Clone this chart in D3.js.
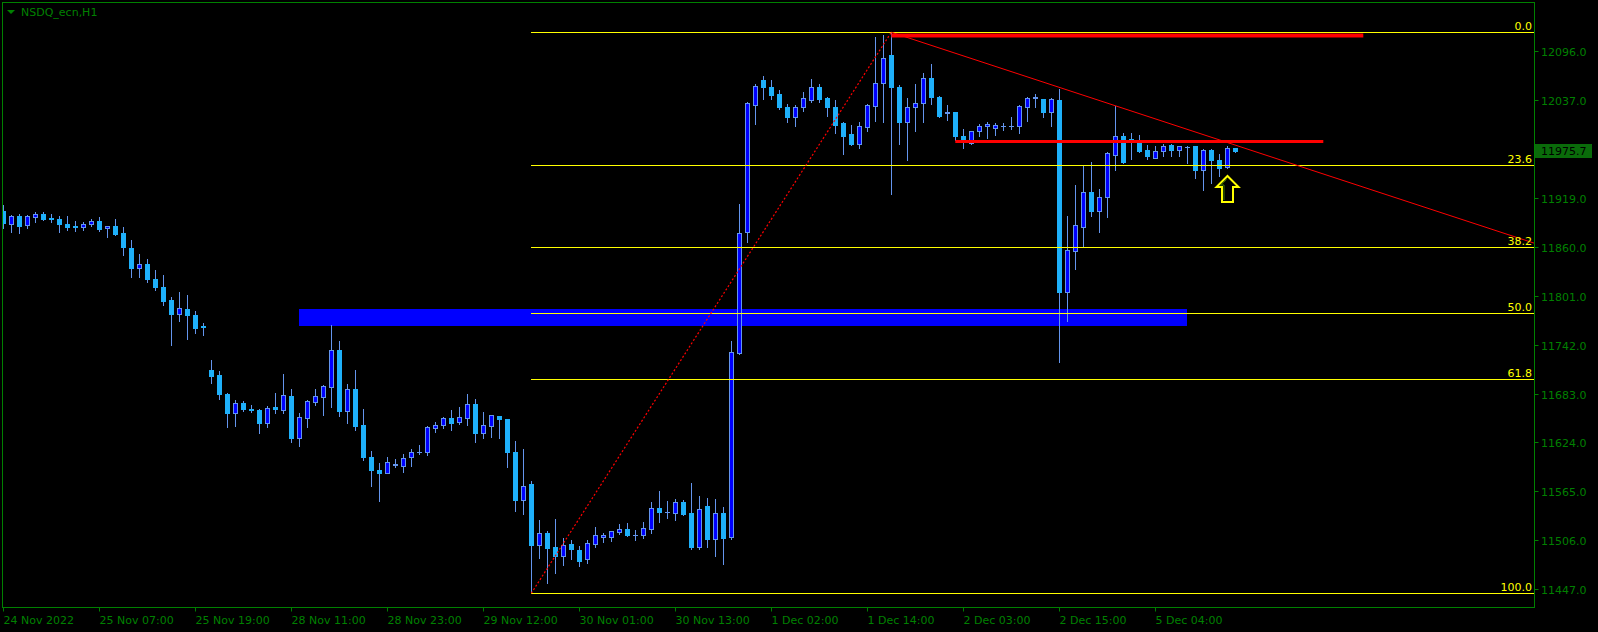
<!DOCTYPE html>
<html><head><meta charset="utf-8">
<script src="https://cdn.jsdelivr.net/npm/d3@7"></script>
<style>html,body{margin:0;padding:0;background:#000;overflow:hidden}</style>
</head><body><svg id="c" width="1598" height="632"></svg>
<script>
// ---------- DATA ----------
const symbolTitle = "NSDQ_ecn,H1";
const opens = [11903,11887,11897,11886,11896,11900,11895,11894,11888,11885,11884,11887,11891,11882,11885,11876,11859,11834,11839,11821,11812,11796,11779,11785,11778,11764,11712,11705,11682,11659,11672,11664,11663,11647,11667,11663,11680,11629,11654,11673,11679,11691,11735,11662,11689,11645,11607,11591,11587,11597,11596,11606,11613,11612,11642,11645,11653,11649,11654,11670,11635,11644,11656,11652,11612,11555,11574,11501,11515,11498,11487,11502,11494,11483,11502,11510,11510,11516,11520,11512,11512,11520,11545,11540,11539,11552,11539,11498,11547,11508,11539,11510,11732,11878,12031,12061,12052,12044,12028,12017,12028,12037,12053,12039,12028,12009,11996,11984,12004,12030,12058,12091,12053,12010,12028,12033,12064,12041,12021,12022,11993,11985,12000,12005,12003,12005,12005,12006,12029,12039,12038,12023,12037,11806,11855,11884,11926,11903,11920,11971,11994,11990,11986,11977,11967,11976,11983,11977,11980,11981,11952,11977,11964,11956,11979];
const highs = [11910,11898,11899,11898,11902,11902,11900,11897,11897,11891,11890,11894,11896,11885,11893,11884,11868,11851,11845,11832,11826,11799,11806,11802,11782,11768,11724,11710,11684,11675,11674,11669,11664,11668,11684,11707,11689,11659,11675,11689,11693,11766,11746,11695,11711,11664,11614,11599,11606,11604,11610,11616,11621,11644,11649,11655,11663,11667,11682,11676,11661,11657,11656,11652,11626,11616,11578,11531,11517,11532,11509,11506,11499,11506,11522,11515,11517,11526,11527,11518,11528,11552,11565,11554,11556,11555,11575,11560,11557,11556,11546,11746,11912,12034,12056,12066,12061,12049,12032,12031,12047,12062,12056,12041,12037,12010,12007,12010,12032,12113,12115,12118.6,12055,12039,12056,12069,12080,12042,12031,12022,12002,12000,12008,12010,12009,12009,12016,12031,12040,12044,12038,12039,12050,11897,11934,11959,11962,11930,11974,12030,11997,11997,11995,11983,11981,11984,11984,11981,11981,11982,11978,11978,11972,11981,11979.5];
const lows = [11883,11878,11876,11882,11890,11892,11890,11878,11880,11879,11880,11885,11879,11872,11874,11850,11823,11824,11817,11808,11790,11741,11770,11749,11756,11753,11696,11677,11643,11644,11662,11661,11635,11643,11660,11660,11624,11620,11643,11669,11657,11667,11656,11648,11639,11603,11572,11553,11587,11594,11589,11596,11610,11609,11637,11642,11639,11646,11645,11625,11629,11631,11629,11594,11541,11538,11442.2,11485,11454,11467,11476,11483,11475,11479,11498,11504,11505,11514,11511,11506,11509,11515,11528,11533,11530,11536,11496,11495,11498,11487,11477,11508,11731,11866,12008,12038,12038,12026,12010,12006,12024,12034,12035,12018,11997,11972,11983,11979,12000,12012,12010,11924,11984,11964,11999,12011,12032,12017,12013,11989,11979,11984,11994,11991,11995,12001,12002,11997,12012,12029,12016,12005,11721,11771,11833,11861,11897,11878,11896,11953,11961,11966,11974,11966,11967,11970,11969,11969,11961,11943,11928,11937,11945,11955,11974];
const closes = [11889,11897,11885,11897,11900,11893,11894,11888,11884,11884,11887,11891,11881,11885,11875,11860,11834,11839,11821,11812,11795,11779,11786,11778,11762,11763,11704,11682,11659,11672,11664,11663,11647,11666,11664,11681,11629,11655,11674,11680,11692,11735,11662,11688,11644,11607,11591,11587,11601,11598,11605,11613,11613,11643,11645,11653,11648,11655,11670,11635,11645,11657,11652,11612,11555,11572,11501,11515,11497,11487,11501,11496,11481,11503,11512,11512,11517,11520,11512,11512,11521,11545,11540,11540,11552,11538,11498,11544,11508,11539,11509,11733,11877,12033,12054,12053,12043,12028,12017,12028,12039,12052,12038,12028,12007,11994,11984,12005,12031,12058,12088,12052,12010,12028,12033,12064,12041,12018,12022,11993,11987,11999,12005,12008,12007,12005,12005,12030,12039,12040,12022,12038,11806,11856,11886,11926,11903,11920,11973,11994,11962,11988,11975,11969,11976,11982,11977,11981,11980,11952,11977,11964,11955,11979,11975.7];

const timeTickIndex  = [0,12,24,36,48,60,72,84,96,108,120,132,144];
const timeTickLabels = ["24 Nov 2022","25 Nov 07:00","25 Nov 19:00","28 Nov 11:00","28 Nov 23:00","29 Nov 12:00","30 Nov 01:00","30 Nov 13:00","1 Dec 02:00","1 Dec 14:00","2 Dec 03:00","2 Dec 15:00","5 Dec 04:00"];
const priceTicks = [12096,12037,11978,11919,11860,11801,11742,11683,11624,11565,11506,11447];
const currentPrice = 11975.7;

// Fibonacci retracement (from bar 66 low to bar 111 high)
const fibLevels = [0, 23.6, 38.2, 50, 61.8, 100];
const fibLabels = ["0.0","23.6","38.2","50.0","61.8","100.0"];
const fibAnchorIndex = [66, 111];
const fibAnchorPrice = [11442.2, 12118.6];

// Red trendline through two highs
const trendIndex = [111, 139];
const trendPrice = [12118.6, 12030];
// Red horizontal levels: [startIndex, endIndex, price]
const levelStart = [111, 119];
const levelEnd   = [170, 165];
const levelPrice = [12115, 11988];
// Blue zone
const zoneIndex = [37, 148];
const zonePrice = [11785, 11765];
// Arrow marker
const arrowIndex = 153, arrowPrice = 11945;

// ---------- LAYOUT ----------
const W = 1598, H = 632;
const L = 2.5, R = 1534.5, T = 2.5, B = 607.5;
const GREEN = "#008000", YELLOW = "#ffff00", RED = "#ff0000";
const BULL_FILL = "#0000ff", BEAR_FILL = "#1eb0fa", WICK = "#6495ed";
const FONT = "'DejaVu Sans', Verdana, sans-serif";

const svg = d3.select("#c");
svg.append("rect").attr("width", W).attr("height", H).attr("fill", "#000");

const x = d3.scaleLinear().domain([0, opens.length - 1]).range([3.3, 3.3 + 8 * (opens.length - 1)]);
const y = d3.scaleLinear().domain([11447, 12096]).range([589.3, 51]);

svg.append("defs").append("clipPath").attr("id", "plot")
  .append("rect").attr("x", 3).attr("y", 3).attr("width", R - 3).attr("height", B - 3);

const plot = svg.append("g").attr("clip-path", "url(#plot)");

// blue zone (background)
plot.append("rect")
  .attr("x", Math.round(x(zoneIndex[0])))
  .attr("y", Math.round(y(zonePrice[0])))
  .attr("width", Math.round(x(zoneIndex[1])) - Math.round(x(zoneIndex[0])))
  .attr("height", Math.round(y(zonePrice[1])) - Math.round(y(zonePrice[0])))
  .attr("fill", "#0000ff");

// candles
const data = opens.map((o, i) => ({ i, o, h: highs[i], l: lows[i], c: closes[i] }));
const cg = plot.append("g");
data.forEach(d => {
  const cx = Math.round(x(d.i));
  const bull = d.c >= d.o;
  const yt = Math.round(y(Math.max(d.o, d.c)));
  const yb = Math.round(y(Math.min(d.o, d.c)));
  const yh = Math.round(y(d.h)), yl = Math.round(y(d.l));
  cg.append("line").attr("x1", cx + 0.5).attr("x2", cx + 0.5)
    .attr("y1", yh).attr("y2", yl + 1).attr("stroke", WICK).attr("stroke-width", 1);
  if (yb - yt < 1) {
    cg.append("line").attr("x1", cx - 2).attr("x2", cx + 3)
      .attr("y1", yt + 0.5).attr("y2", yt + 0.5).attr("stroke", WICK);
  } else {
    cg.append("rect").attr("x", cx - 1.5).attr("y", yt + 0.5)
      .attr("width", 4).attr("height", yb - yt)
      .attr("fill", bull ? BULL_FILL : BEAR_FILL)
      .attr("stroke", bull ? WICK : BEAR_FILL).attr("stroke-width", 1);
  }
});

// fibonacci lines
const fx0 = Math.round(x(fibAnchorIndex[0]));
fibLevels.forEach((lv, k) => {
  const p = fibAnchorPrice[1] - (fibAnchorPrice[1] - fibAnchorPrice[0]) * lv / 100;
  const yy = Math.round(y(p)) + 0.5;
  plot.append("line").attr("x1", fx0).attr("x2", R).attr("y1", yy).attr("y2", yy)
    .attr("stroke", YELLOW).attr("stroke-width", 1);
  svg.append("text").attr("x", 1532).attr("y", yy - 3).attr("text-anchor", "end")
    .attr("fill", YELLOW).attr("font-family", FONT).attr("font-size", 11).text(fibLabels[k]);
});
// fib dotted diagonal
plot.append("line")
  .attr("x1", x(fibAnchorIndex[0])).attr("y1", y(fibAnchorPrice[0]))
  .attr("x2", x(fibAnchorIndex[1])).attr("y2", y(fibAnchorPrice[1]))
  .attr("stroke", RED).attr("stroke-width", 1.2).attr("stroke-dasharray", "2,2");

// trendline extended to right edge
const slope = (trendPrice[1] - trendPrice[0]) / (trendIndex[1] - trendIndex[0]);
const endIdx = x.invert(R);
plot.append("line")
  .attr("x1", x(trendIndex[0])).attr("y1", y(trendPrice[0]))
  .attr("x2", x(endIdx)).attr("y2", y(trendPrice[0] + slope * (endIdx - trendIndex[0])))
  .attr("stroke", RED).attr("stroke-width", 1);

// red horizontal levels
levelPrice.forEach((p, k) => {
  plot.append("line")
    .attr("x1", x(levelStart[k])).attr("x2", x(levelEnd[k]))
    .attr("y1", Math.round(y(p)) + 0.5).attr("y2", Math.round(y(p)) + 0.5)
    .attr("stroke", RED).attr("stroke-width", k === 0 ? 4 : 3);
});

// arrow
const ax = Math.round(x(arrowIndex)) + 0.5, ay = Math.round(y(arrowPrice));
const arrowPts = [[0,0],[11,11],[5.5,11],[5.5,26],[-5.5,26],[-5.5,11],[-11,11]];
plot.append("polygon")
  .attr("points", arrowPts.map(p => [ax + p[0], ay + p[1]].join(",")).join(" "))
  .attr("fill", "none").attr("stroke", YELLOW).attr("stroke-width", 2).attr("stroke-linejoin", "miter");
const innerPts = [[-1,3.5],[-7,9],[-3.5,9],[-3.5,24]];
plot.append("polyline")
  .attr("points", innerPts.map(p => [ax + p[0], ay + p[1]].join(",")).join(" "))
  .attr("fill", "none").attr("stroke", "#3f7a00").attr("stroke-width", 1);

// frame
svg.append("rect").attr("x", L).attr("y", T).attr("width", R - L).attr("height", B - T)
  .attr("fill", "none").attr("stroke", GREEN).attr("stroke-width", 1);

// right price axis
const cpY = y(currentPrice);
priceTicks.forEach(p => {
  const yy = Math.round(y(p)) + 0.5;
  svg.append("line").attr("x1", R).attr("x2", R + 4).attr("y1", yy).attr("y2", yy).attr("stroke", GREEN);
  if (Math.abs(yy - cpY) > 10) {
    svg.append("text").attr("x", 1541).attr("y", yy + 4).attr("fill", GREEN)
      .attr("font-family", FONT).attr("font-size", 11).text(p.toFixed(1));
  }
});
// current price label
svg.append("rect").attr("x", 1535).attr("y", Math.round(cpY) - 7).attr("width", 57).attr("height", 14)
  .attr("fill", "#0a6b0a");
svg.append("text").attr("x", 1541).attr("y", Math.round(cpY) + 4).attr("fill", "#000")
  .attr("font-family", FONT).attr("font-size", 11).text(currentPrice.toFixed(1));

// bottom time axis
timeTickIndex.forEach((idx, k) => {
  const xx = Math.round(x(idx)) + 0.5;
  svg.append("line").attr("x1", xx).attr("x2", xx).attr("y1", B).attr("y2", B + 4).attr("stroke", GREEN);
  svg.append("text").attr("x", xx).attr("y", 624).attr("fill", GREEN)
    .attr("font-family", FONT).attr("font-size", 11).text(timeTickLabels[k]);
});

// title
svg.append("polygon").attr("points", "7,10 15,10 11,14").attr("fill", GREEN);
svg.append("text").attr("x", 21).attr("y", 15.5).attr("fill", GREEN)
  .attr("font-family", FONT).attr("font-size", 11).text(symbolTitle);
</script>
</body></html>
